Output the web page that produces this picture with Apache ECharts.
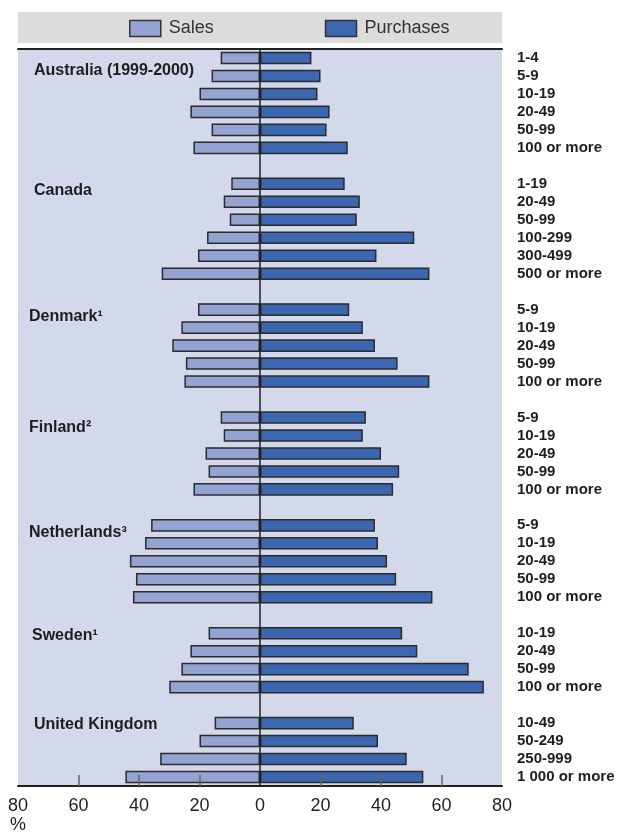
<!DOCTYPE html>
<html>
<head>
<meta charset="utf-8">
<script src="https://cdn.jsdelivr.net/npm/echarts@6/dist/echarts.min.js"></script>
<style>
  html, body { margin: 0; padding: 0; background: #ffffff; }
  #chart { width: 619px; height: 833px; }
</style>
</head>
<body>
<div id="chart"></div>
<script>
// Share of firms selling / purchasing online, by firm size class (%)
const countryNames = ['Australia (1999-2000)', 'Canada', 'Denmark\u00B9', 'Finland\u00B2', 'Netherlands\u00B3', 'Sweden\u00B9', 'United Kingdom'];

const australiaSizes = ['1-4', '5-9', '10-19', '20-49', '50-99', '100 or more'];
const australiaSales = [13, 16, 20, 23, 16, 22];
const australiaPurchases = [17, 20, 19, 23, 22, 29];

const canadaSizes = ['1-19', '20-49', '50-99', '100-299', '300-499', '500 or more'];
const canadaSales = [9.5, 12, 10, 17.5, 20.5, 32.5];
const canadaPurchases = [28, 33, 32, 51, 38.5, 56];

const denmarkSizes = ['5-9', '10-19', '20-49', '50-99', '100 or more'];
const denmarkSales = [20.5, 26, 29, 24.5, 25];
const denmarkPurchases = [29.5, 34, 38, 45.5, 56];

const finlandSizes = ['5-9', '10-19', '20-49', '50-99', '100 or more'];
const finlandSales = [13, 12, 18, 17, 22];
const finlandPurchases = [35, 34, 40, 46, 44];

const netherlandsSizes = ['5-9', '10-19', '20-49', '50-99', '100 or more'];
const netherlandsSales = [36, 38, 43, 41, 42];
const netherlandsPurchases = [38, 39, 42, 45, 57];

const swedenSizes = ['10-19', '20-49', '50-99', '100 or more'];
const swedenSales = [17, 23, 26, 30];
const swedenPurchases = [47, 52, 69, 74];

const ukSizes = ['10-49', '50-249', '250-999', '1 000 or more'];
const ukSales = [15, 20, 33, 44.5];
const ukPurchases = [31, 39, 48.5, 54];

const xTicks = [-80, -60, -40, -20, 0, 20, 40, 60, 80];
// Small inner tick marks along the bottom axis
const innerTicks = [-60, -40, -20, 20, 40, 60];

const groups = [
  [australiaSizes, australiaSales, australiaPurchases],
  [canadaSizes, canadaSales, canadaPurchases],
  [denmarkSizes, denmarkSales, denmarkPurchases],
  [finlandSizes, finlandSales, finlandPurchases],
  [netherlandsSizes, netherlandsSales, netherlandsPurchases],
  [swedenSizes, swedenSales, swedenPurchases],
  [ukSizes, ukSales, ukPurchases]
];

// Build one category per size class, with an empty row between countries.
const categories = [];
const salesData = [];
const purchaseData = [];
const firstRowKey = [];
groups.forEach(function (g, gi) {
  const sizes = g[0], sales = g[1], purchases = g[2];
  sizes.forEach(function (s, i) {
    const key = gi + '|' + s;
    if (i === 0) firstRowKey.push(key);
    categories.push(key);
    salesData.push(-sales[i]);
    purchaseData.push(purchases[i]);
  });
  if (gi < groups.length - 1) {
    categories.push('gap' + gi);
    salesData.push('-');
    purchaseData.push('-');
  }
});

// Country title placement relative to the first row of each block
const titleDx = [34, 34, 29, 29, 29, 32, 34];
const titleDy = [13, 6.5, 7, 10.5, 7.5, 2.5, 2];

const chart = echarts.init(document.getElementById('chart'), null, { renderer: 'canvas' });

const border = '#2b2b2b';
const option = {
  animation: false,
  backgroundColor: '#ffffff',
  grid: {
    left: 18, right: 117, top: 49, bottom: 47,
    show: true, backgroundColor: '#d3d9eb', borderWidth: 0
  },
  legend: {
    left: 129, top: 19.5,
    padding: 0,
    itemWidth: 31, itemHeight: 16,
    itemGap: 111,
    icon: 'rect',
    textStyle: { fontFamily: 'Liberation Sans, Arial, sans-serif', fontSize: 18, color: '#333333', padding: [0, 0, 0, 3] },
    itemStyle: { borderColor: '#333333', borderWidth: 1.5 },
    data: ['Sales', 'Purchases']
  },
  xAxis: [{
    type: 'value',
    min: xTicks[0], max: xTicks[xTicks.length - 1], interval: 20,
    position: 'bottom',
    z: 5,
    axisLine: { show: true, onZero: false, lineStyle: { color: '#222222', width: 2 } },
    axisTick: { show: true, inside: true, length: 11, customValues: innerTicks, lineStyle: { color: '#666666', width: 1.5 } },
    splitLine: { show: false },
    axisLabel: {
      margin: 11,
      customValues: xTicks,
      fontFamily: 'Liberation Sans Narrow, Arial Narrow, Liberation Sans, sans-serif',
      fontSize: 18, color: '#1e1e1e',
      formatter: function (v) { return String(Math.abs(v)); }
    }
  }, {
    type: 'value',
    min: xTicks[0], max: xTicks[xTicks.length - 1], interval: 20,
    position: 'top',
    z: 5,
    axisLine: { show: true, onZero: false, lineStyle: { color: '#222222', width: 2 } },
    axisTick: { show: false },
    axisLabel: { show: false },
    splitLine: { show: false }
  }],
  yAxis: [{
    type: 'category',
    data: categories,
    inverse: true,
    z: 5,
    axisLine: { show: true, onZero: true, lineStyle: { color: '#222222', width: 1.5 } },
    axisTick: { show: false },
    axisLabel: { show: false },
    splitLine: { show: false }
  }, {
    type: 'category',
    data: categories,
    inverse: true,
    position: 'right',
    axisLine: { show: false },
    axisTick: { show: false },
    splitLine: { show: false },
    axisLabel: {
      margin: 15,
      align: 'left',
      interval: 0,
      fontFamily: 'Liberation Sans, Arial, sans-serif',
      fontWeight: 'bold',
      fontSize: 15,
      color: '#1e1e1e',
      formatter: function (v) { return v.indexOf('|') >= 0 ? v.split('|')[1] : ''; }
    }
  }],
  series: [{
    name: 'Sales',
    type: 'bar',
    xAxisIndex: 0, yAxisIndex: 0,
    data: salesData,
    barGap: '-100%',
    barCategoryGap: '30%',
    itemStyle: { color: '#95a3d3', borderColor: border, borderWidth: 1.5 }
  }, {
    name: 'Purchases',
    type: 'bar',
    xAxisIndex: 0, yAxisIndex: 0,
    data: purchaseData,
    barGap: '-100%',
    barCategoryGap: '30%',
    itemStyle: { color: '#3a67b0', borderColor: border, borderWidth: 1.5 }
  }]
};

chart.setOption(option);

// Legend band, country titles and unit label
const graphics = [{
  type: 'rect', z: -1, silent: true,
  shape: { x: 18, y: 12, width: 484, height: 31 },
  style: { fill: '#dcdcdc' }
}, {
  type: 'text', z: 10,
  x: 18, y: 825,
  style: {
    text: '%', fill: '#1e1e1e', align: 'center', verticalAlign: 'middle',
    font: '18px "Liberation Sans Narrow", "Arial Narrow", "Liberation Sans", sans-serif'
  }
}];
countryNames.forEach(function (name, gi) {
  const y = chart.convertToPixel({ yAxisIndex: 0 }, firstRowKey[gi]);
  graphics.push({
    type: 'text', z: 10,
    x: titleDx[gi], y: y + titleDy[gi],
    style: {
      text: name, fill: '#1e1e1e', align: 'left', verticalAlign: 'middle',
      font: 'bold 16px "Liberation Sans", Arial, sans-serif'
    }
  });
});
chart.setOption({ graphic: graphics });
</script>
</body>
</html>
